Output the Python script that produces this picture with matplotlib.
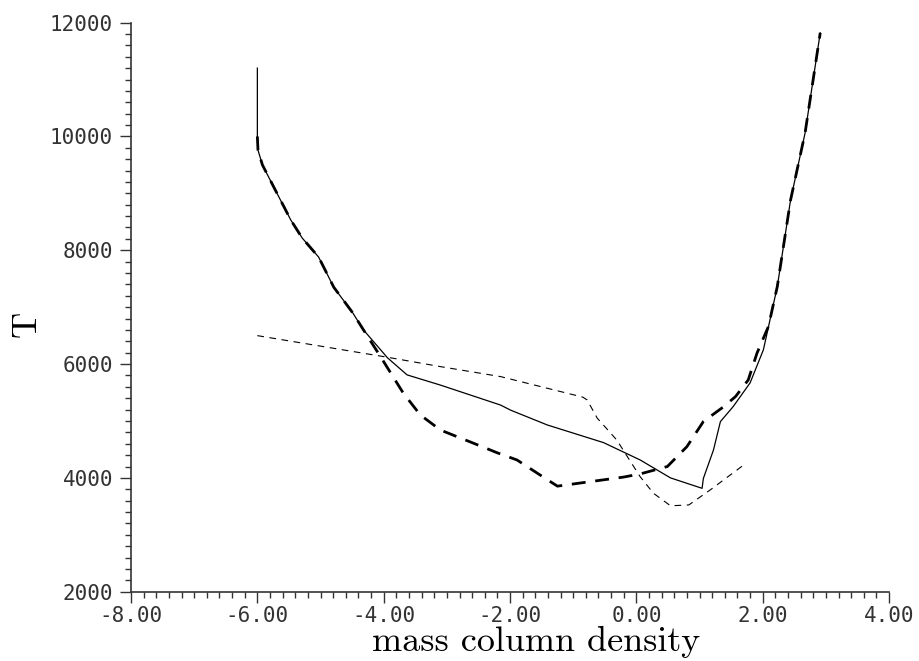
import numpy as np
import matplotlib
matplotlib.use("Agg")
import matplotlib.pyplot as plt
from matplotlib.ticker import MultipleLocator, FormatStrFormatter

plt.rcParams['axes.unicode_minus'] = False

# сплошная тонкая линия
solid_x = [-6.0, -6.0, -5.99, -5.92, -5.74, -5.47, -5.29, -5.03, -4.79, -4.49, -4.32, -3.94, -3.63,
           -3.10, -2.15, -1.99, -1.41, -0.52, 0.06, 0.54, 1.04, 1.06, 1.22, 1.33, 1.53, 1.80, 2.01,
           2.07, 2.23, 2.44, 2.67, 2.91]
solid_y = [11200, 10000, 9760, 9500, 9110, 8530, 8215, 7880, 7350, 6900, 6600, 6110, 5810,
           5630, 5280, 5190, 4930, 4620, 4315, 4000, 3817, 3990, 4490, 4990, 5250, 5670, 6250,
           6550, 7360, 8880, 10060, 11820]

# жирный пунктир
thick_x = [-6.0, -5.99, -5.92, -5.74, -5.47, -5.29, -5.03, -4.79, -4.49, -4.32, -4.05, -3.69, -3.42,
           -3.10, -2.58, -2.20, -1.89, -1.44, -1.25, -0.20, 0.06, 0.49, 0.80, 1.06, 1.38, 1.57,
           1.77, 1.91, 2.09, 2.23, 2.44, 2.67, 2.91]
thick_y = [10000, 9760, 9500, 9110, 8530, 8215, 7880, 7350, 6900, 6600, 6130, 5490, 5105,
           4840, 4610, 4440, 4315, 3990, 3855, 4015, 4070, 4200, 4550, 4990, 5250, 5430,
           5720, 6195, 6660, 7360, 8880, 10060, 11820]

# тонкий пунктир
thin_x = [-6.0, -3.94, -3.10, -2.15, -0.85, -0.78, -0.62, -0.31, 0.06, 0.27, 0.54, 0.83, 1.17, 1.72]
thin_y = [6500, 6120, 5955, 5780, 5420, 5370, 5050, 4665, 4020, 3730, 3510, 3525, 3790, 4245]

xticks = [-8, -6, -4, -2, 0, 2, 4]
yticks = [2000, 4000, 6000, 8000, 10000, 12000]

fig = plt.figure(figsize=(9.2, 6.61), dpi=100)
ax = fig.add_axes([0.1424, 0.1048, 0.824, 0.861])

ax.plot(solid_x, solid_y, color='black', lw=0.9)
ax.plot(thick_x, thick_y, color='black', lw=2.0, dashes=(5, 3.5))
ax.plot(thin_x, thin_y, color='black', lw=0.8, dashes=(6, 5))

ax.set_xlim(-8, 4)
ax.set_ylim(2000, 12000)
ax.set_xticks(xticks)
ax.set_yticks(yticks)
ax.xaxis.set_minor_locator(MultipleLocator(0.2))
ax.yaxis.set_minor_locator(MultipleLocator(200))
ax.xaxis.set_major_formatter(FormatStrFormatter('%.2f'))

for s in ['top', 'right']:
    ax.spines[s].set_visible(False)
for s in ['left', 'bottom']:
    ax.spines[s].set_linewidth(1.2)
    ax.spines[s].set_color('#333333')

ax.tick_params(which='major', direction='out', length=8, width=1, color='#333333')
ax.tick_params(which='minor', direction='out', length=4.5, width=1, color='#333333')
ax.tick_params(axis='x', which='major', pad=2)
ax.tick_params(axis='y', which='major', pad=5)
for lab in ax.get_xticklabels() + ax.get_yticklabels():
    lab.set_fontfamily('DejaVu Sans Mono')
    lab.set_fontsize(15)
    lab.set_color('#333333')

ax.set_xlabel('mass column density', fontfamily='cmr10', fontsize=26, labelpad=0)
ax.xaxis.label.set_va('baseline')
ax.xaxis.set_label_coords(0.535, -0.104)
ax.set_ylabel('T', fontfamily='cmr10', fontsize=26, labelpad=0)
ax.yaxis.set_label_coords(-0.116, 0.47)

fig.savefig('out.png', dpi=100)
